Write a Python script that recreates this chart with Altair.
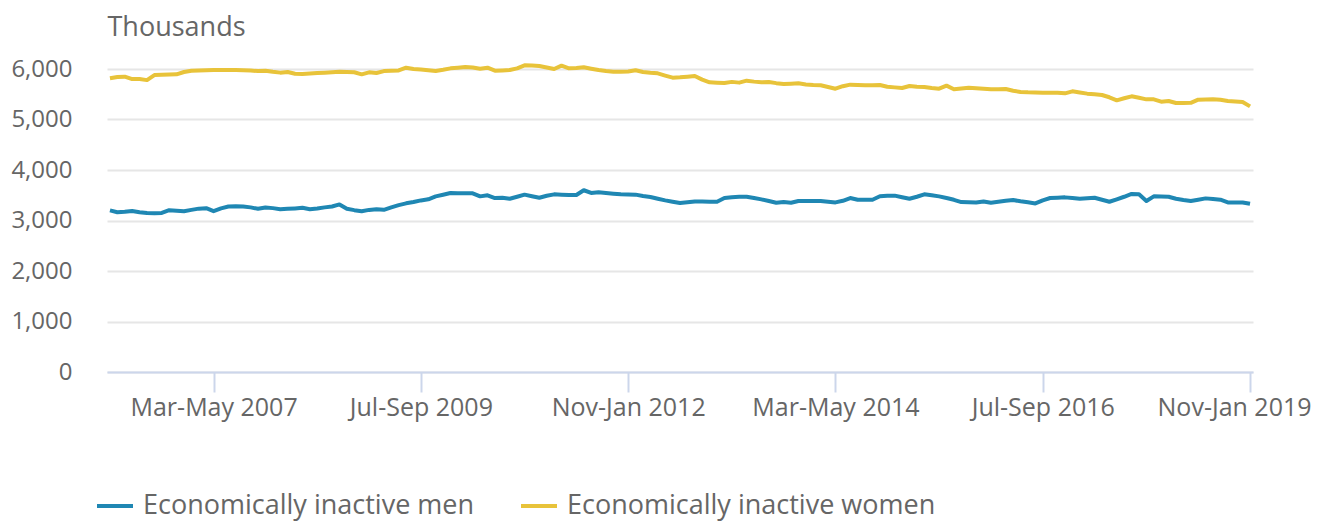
import altair as alt
import pandas as pd

MONTHS = ["Jan", "Feb", "Mar", "Apr", "May", "Jun", "Jul", "Aug", "Sep", "Oct", "Nov", "Dec"]

# rolling three-month periods: Jan-Mar 2006 ... Nov-Jan 2019
periods = []
for i in range(155):
    y, m = divmod(i, 12)
    end_y, end_m = divmod(i + 2, 12)
    periods.append(f"{MONTHS[m]}-{MONTHS[end_m]} {2006 + end_y}")

tick_labels = ["Mar-May 2007", "Jul-Sep 2009", "Nov-Jan 2012",
               "Mar-May 2014", "Jul-Sep 2016", "Nov-Jan 2019"]

men = [
    3200, 3164, 3175, 3190, 3165, 3148, 3144, 3150, 3204, 3195,
    3184, 3210, 3235, 3244, 3184, 3240, 3278, 3280, 3278, 3260,
    3231, 3258, 3245, 3224, 3232, 3240, 3251, 3224, 3238, 3260,
    3278, 3318, 3231, 3205, 3184, 3210, 3224, 3211, 3260, 3305,
    3340, 3365, 3398, 3420, 3478, 3510, 3545, 3540, 3540, 3538,
    3478, 3498, 3445, 3451, 3431, 3470, 3512, 3480, 3451, 3490,
    3518, 3510, 3505, 3505, 3599, 3545, 3558, 3545, 3530, 3518,
    3515, 3512, 3485, 3465, 3430, 3398, 3370, 3345, 3360, 3378,
    3375, 3372, 3371, 3445, 3460, 3468, 3471, 3445, 3418, 3385,
    3351, 3365, 3351, 3385, 3385, 3385, 3385, 3370, 3358, 3391,
    3445, 3411, 3411, 3411, 3480, 3492, 3492, 3460, 3431, 3470,
    3518, 3500, 3478, 3445, 3410, 3365, 3362, 3358, 3378, 3351,
    3370, 3390, 3405, 3380, 3360, 3338, 3400, 3445, 3452, 3458,
    3445, 3431, 3440, 3451, 3410, 3371, 3420, 3470, 3525, 3518,
    3385, 3478, 3474, 3471, 3430, 3405, 3385, 3410, 3438, 3425,
    3411, 3358, 3358, 3358, 3331,
]

women = [
    5815, 5840, 5848, 5800, 5800, 5780, 5880, 5885, 5890, 5895,
    5940, 5965, 5972, 5975, 5978, 5980, 5982, 5980, 5975, 5968,
    5960, 5967, 5945, 5928, 5940, 5905, 5900, 5910, 5920, 5928,
    5938, 5947, 5940, 5935, 5894, 5934, 5920, 5958, 5965, 5972,
    6026, 6000, 5990, 5975, 5962, 5985, 6013, 6025, 6040, 6030,
    6005, 6026, 5967, 5972, 5980, 6013, 6073, 6070, 6060, 6030,
    6000, 6066, 6013, 6020, 6033, 6005, 5980, 5960, 5947, 5948,
    5950, 5974, 5940, 5925, 5914, 5870, 5828, 5835, 5848, 5861,
    5790, 5736, 5728, 5723, 5745, 5730, 5769, 5750, 5736, 5742,
    5720, 5703, 5710, 5716, 5695, 5683, 5677, 5645, 5610, 5660,
    5690, 5682, 5677, 5677, 5683, 5650, 5636, 5624, 5663, 5650,
    5644, 5625, 5610, 5670, 5600, 5615, 5630, 5620, 5610, 5600,
    5597, 5604, 5570, 5545, 5538, 5535, 5531, 5531, 5531, 5518,
    5558, 5535, 5512, 5500, 5485, 5440, 5380, 5420, 5459, 5430,
    5399, 5399, 5353, 5366, 5327, 5327, 5330, 5393, 5398, 5400,
    5390, 5366, 5355, 5346, 5260,
]

series_names = ["Economically inactive men", "Economically inactive women"]
series_colors = ["#1f87b3", "#e8c33a"]

df = pd.concat([
    pd.DataFrame({"period": periods, "value": men, "series": series_names[0]}),
    pd.DataFrame({"period": periods, "value": women, "series": series_names[1]}),
])

FONT = "Open Sans"
GREY = "#666666"

chart = alt.Chart(df).mark_line(strokeWidth=4, strokeJoin="round").encode(
    x=alt.X("period:N", sort=periods,
            scale=alt.Scale(type="point", padding=0.4),
            axis=alt.Axis(values=tick_labels, title=None, labelAngle=0,
                          grid=False, domainColor="#ccd6eb", domainWidth=2,
                          tickColor="#ccd6eb", tickWidth=2, tickSize=20,
                          labelPadding=3, labelFontSize=25, labelFont=FONT,
                          labelColor=GREY, labelOverlap=False, labelBound=False,
                          labelOffset={"condition": {"test": "datum.value == 'Nov-Jan 2019'",
                                                     "value": -16},
                                       "value": 0})),
    y=alt.Y("value:Q", scale=alt.Scale(domain=[0, 6000], nice=False),
            axis=alt.Axis(values=[0, 1000, 2000, 3000, 4000, 5000, 6000],
                          format=",.0f", domain=False, ticks=False,
                          labelPadding=35, labelFontSize=24, labelFont=FONT,
                          labelColor=GREY, gridColor="#e6e6e6", gridWidth=2,
                          title="Thousands", titleAngle=0, titleX=0, titleY=-42,
                          titleAlign="left", titleBaseline="middle",
                          titleFontSize=27, titleFont=FONT, titleColor=GREY,
                          titleFontWeight="normal")),
    color=alt.Color("series:N", sort=series_names,
                    scale=alt.Scale(domain=series_names, range=series_colors),
                    legend=alt.Legend(title=None, orient="none", direction="horizontal",
                                      legendX=-12, legendY=417,
                                      symbolType="stroke", symbolStrokeWidth=4,
                                      symbolSize=1296, labelFontSize=27,
                                      labelFont=FONT, labelColor=GREY,
                                      labelOffset=8, columnPadding=38,
                                      labelLimit=600, padding=0)),
).properties(
    width=1146, height=303,
    autosize=alt.AutoSizeParams(type="none"),
    padding={"left": 99, "top": 61, "right": 62, "bottom": 149},
).configure_view(stroke=None)

chart.save("out.html", embed_options={"renderer": "svg", "actions": False})
